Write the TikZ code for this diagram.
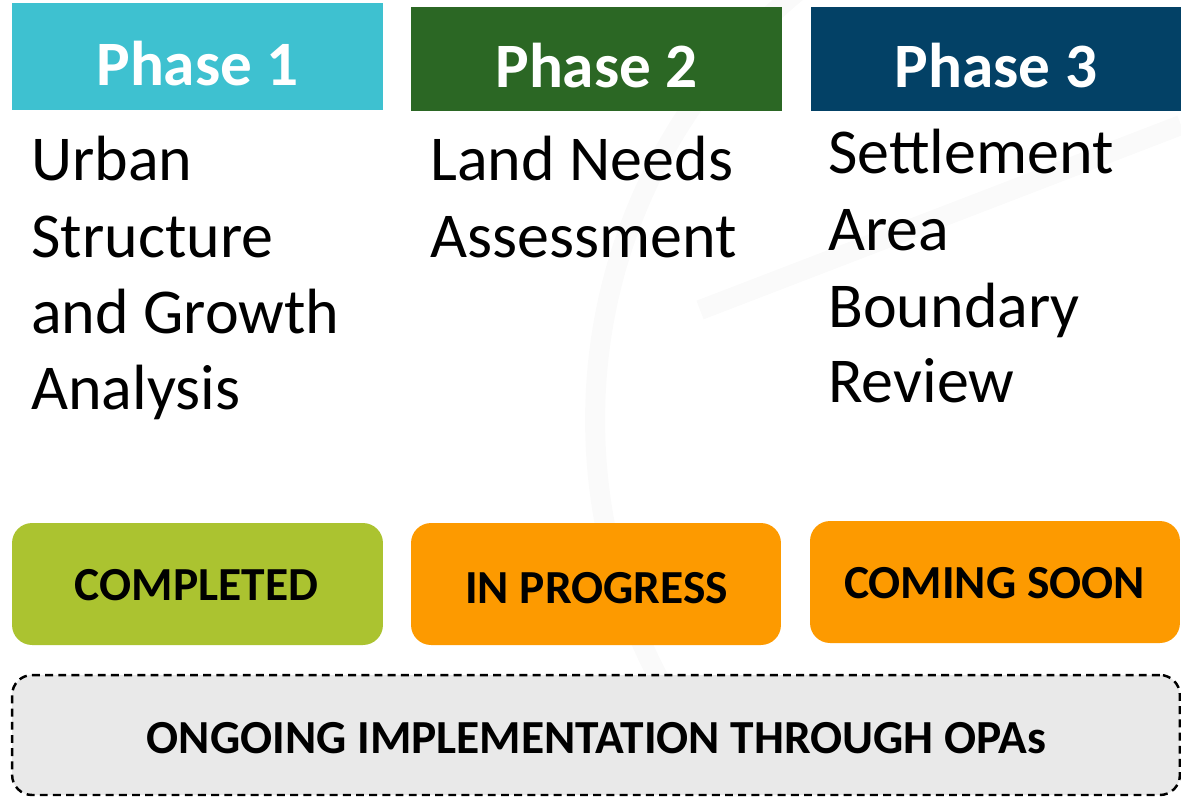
\documentclass[tikz,border=0pt]{standalone}
\usepackage{fontspec}
\setmainfont{Carlito}
\definecolor{pone}{HTML}{3EC1D0}
\definecolor{ptwo}{HTML}{2B6724}
\definecolor{pthree}{HTML}{034166}
\definecolor{donecol}{HTML}{ABC330}
\definecolor{progcol}{HTML}{FD9A00}
\definecolor{ongocol}{HTML}{E9E9E9}
\definecolor{wmark}{HTML}{FAFAFA}
\begin{document}
\begin{tikzpicture}[x=0.02cm,y=-0.02cm,
  header/.style={rectangle, inner sep=0, minimum width=7.42cm, minimum height=2.08cm},
  headtext/.style={anchor=base, inner sep=0, text=white, font=\fontsize{36}{43}\selectfont\bfseries},
  bodytext/.style={anchor=base west, inner sep=0, font=\fontsize{36.4}{43}\selectfont},
  statusbox/.style={rectangle, rounded corners=0.4cm, inner sep=0, minimum width=7.40cm, minimum height=2.44cm},
  statustext/.style={anchor=base, inner sep=0, font=\fontsize{27}{32}\selectfont\bfseries}]
\useasboundingbox (0,0) rectangle (1181,796);
% faint watermark
\begin{scope}
\clip (0,0) rectangle (1181,796);
\draw[wmark, line width=0.4cm] (1150,420) circle[radius=11.1cm];
\draw[wmark, line width=0.4cm] (700,310) -- (1181,125);
\end{scope}
% headers
\node[header, fill=pone, minimum width=7.42cm, minimum height=2.14cm] (h1) at (197.5,56.5) {};
\node[header, fill=ptwo, minimum width=7.42cm] (h2) at (596.5,59) {};
\node[header, fill=pthree, minimum width=7.40cm] (h3) at (996,59) {};
\node[headtext] (t1) at (197.5,85) {Phase 1};
\node[headtext] (t2) at (596.5,87) {Phase 2};
\node[headtext] (t3) at (996,87) {Phase 3};
% body texts
\node[bodytext] (a1) at (31,180) {Urban};
\node[bodytext] (a2) at (31,257) {Structure};
\node[bodytext] (a3) at (31,333) {and Growth};
\node[bodytext] (a4) at (31,409) {Analysis};
\node[bodytext] (b1) at (430,180) {Land Needs};
\node[bodytext] (b2) at (430,257) {Assessment};
\node[bodytext] (c1) at (828,173) {Settlement};
\node[bodytext] (c2) at (828,250) {Area};
\node[bodytext] (c3) at (828,327) {Boundary};
\node[bodytext] (c4) at (828,402) {Review};
% status boxes
\node[statusbox, fill=donecol, minimum width=7.42cm] (s1) at (197.5,584) {};
\node[statusbox, fill=progcol] (s2) at (596,584) {};
\node[statusbox, fill=progcol] (s3) at (995,582) {};
\node[statustext] (st1) at (196.5,600) {COMPLETED};
\node[statustext] (st2) at (596.5,603) {IN PROGRESS};
\node[statustext] (st3) at (994.5,598) {COMING SOON};
% ongoing
\node[rectangle, rounded corners=0.4cm, inner sep=0, minimum width=23.36cm, minimum height=2.4cm,
      fill=ongocol, draw=black, line width=1.4pt, dash pattern=on 4.5pt off 3pt] (og) at (596,735) {};
\node[statustext] (ogt) at (596.5,753) {ONGOING IMPLEMENTATION THROUGH OPAs};
\end{tikzpicture}
\end{document}
